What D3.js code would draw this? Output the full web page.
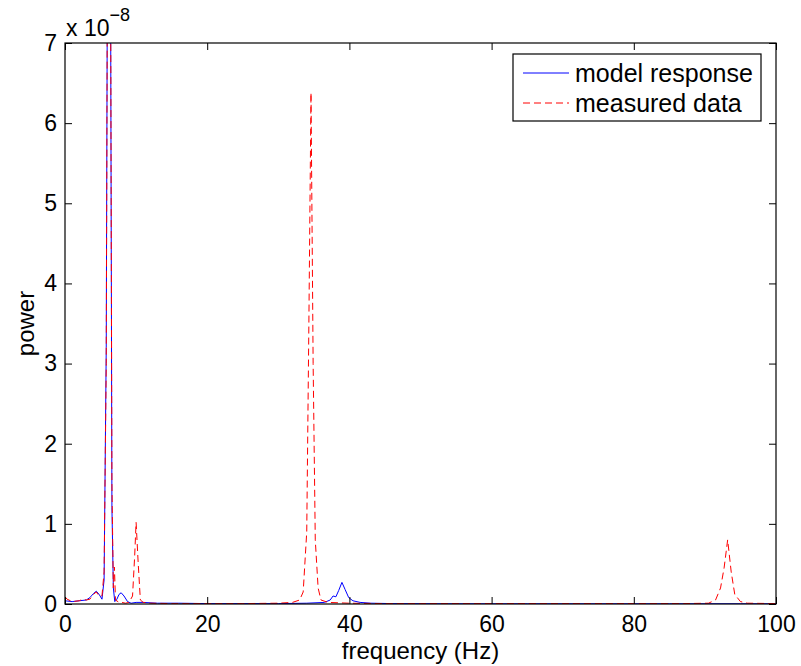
<!DOCTYPE html>
<html>
<head>
<meta charset="utf-8">
<script src="https://cdn.jsdelivr.net/npm/d3@7"></script>
<style>
  body { margin: 0; background: #fff; }
  svg text { font-family: "Liberation Sans", Arial, Helvetica, sans-serif; }
</style>
</head>
<body>
<div id="chart"></div>
<script>
// model response (blue, solid) - power in units of 1e-8
const modelFreq = [0, 1, 2, 3, 3.5, 4, 4.4, 4.8, 5.2, 5.5, 5.8, 6.2, 6.6, 6.8, 7.0, 7.3, 7.6, 7.9, 8.3, 8.8, 9.3, 10, 11, 13, 16, 20, 25, 30, 34, 36.5, 37.3, 37.7, 38.1, 38.5, 38.95, 39.4, 39.9, 40.5, 41.5, 43, 46, 55, 65, 75, 85, 95, 100];
const modelPower = [0.04, 0.03, 0.04, 0.05, 0.08, 0.13, 0.16, 0.12, 0.06, 0.3, 3.2, 15, 1.2, 0.2, 0.03, 0.06, 0.12, 0.14, 0.1, 0.03, 0.01, 0.02, 0.02, 0.01, 0.01, 0.005, 0.005, 0.005, 0.01, 0.02, 0.05, 0.1, 0.09, 0.17, 0.27, 0.18, 0.08, 0.04, 0.02, 0.01, 0.005, 0.003, 0.003, 0.003, 0.003, 0.003, 0.003];

// measured data (red, dashed)
const measFreq = [0, 0.3, 1, 2, 2.5, 3, 3.5, 4, 4.4, 4.8, 5.2, 5.5, 5.8, 6.2, 6.6, 6.8, 6.95, 7.1, 7.6, 8, 8.5, 9, 9.5, 9.8, 10.0, 10.3, 10.6, 11, 12, 15, 20, 25, 30, 32, 33, 33.5, 34, 34.3, 34.6, 34.9, 35.2, 35.6, 36, 37, 40, 45, 50, 60, 70, 80, 87, 90.5, 91.5, 92.2, 92.7, 93.2, 93.7, 94.2, 95, 96, 100];
const measPower = [0.09, 0.06, 0.03, 0.04, 0.06, 0.05, 0.06, 0.12, 0.15, 0.1, 0.1, 0.4, 3, 15, 1.5, 0.2, 0.46, 0.05, 0.02, 0.02, 0.01, 0.02, 0.1, 0.6, 1.02, 0.5, 0.05, 0.02, 0.01, 0.005, 0.005, 0.005, 0.01, 0.02, 0.05, 0.15, 0.9, 3.5, 6.38, 3, 0.8, 0.2, 0.05, 0.02, 0.01, 0.005, 0.005, 0.005, 0.005, 0.005, 0.005, 0.01, 0.05, 0.2, 0.45, 0.8, 0.4, 0.12, 0.03, 0.01, 0.005];

const xTicks = [0, 20, 40, 60, 80, 100];
const yTicks = [0, 1, 2, 3, 4, 5, 6, 7];
const seriesNames = ["model response", "measured data"];

const W = 801, H = 666;
const margin = {top: 43, right: 25, bottom: 62, left: 65};
const width = W - margin.left - margin.right;
const height = H - margin.top - margin.bottom;

const svg = d3.select("#chart").append("svg")
    .attr("width", W).attr("height", H);
const g = svg.append("g").attr("transform", `translate(${margin.left},${margin.top})`);

const x = d3.scaleLinear().domain([0, 100]).range([0, width]);
const y = d3.scaleLinear().domain([0, 7]).range([height, 0]);

g.append("clipPath").attr("id", "clip")
  .append("rect").attr("width", width).attr("height", height);

const line = d3.line().x(d => x(d[0])).y(d => y(d[1]));
const modelData = modelFreq.map((f, i) => [f, modelPower[i]]);
const measData = measFreq.map((f, i) => [f, measPower[i]]);

const plot = g.append("g").attr("clip-path", "url(#clip)");
plot.append("path").datum(modelData).attr("d", line)
    .attr("fill", "none").attr("stroke", "#0000ff").attr("stroke-width", 1);
plot.append("path").datum(measData).attr("d", line)
    .attr("fill", "none").attr("stroke", "#ff0000").attr("stroke-width", 1)
    .attr("stroke-dasharray", "7,4");

// axes (MATLAB style: inward ticks on all four sides)
const tickFont = "23px";
const labelFont = "24px";
g.append("g").attr("transform", `translate(0,${height})`)
    .call(d3.axisBottom(x).tickValues(xTicks).tickFormat(d3.format("d"))
      .tickSizeInner(-7).tickSizeOuter(0).tickPadding(12));
g.append("g")
    .call(d3.axisLeft(y).tickValues(yTicks).tickFormat(d3.format("d"))
      .tickSizeInner(-7).tickSizeOuter(0).tickPadding(8));
g.append("g").call(d3.axisTop(x).tickValues(xTicks).tickSizeInner(-7).tickSizeOuter(0).tickFormat(""));
g.append("g").attr("transform", `translate(${width},0)`)
    .call(d3.axisRight(y).tickValues(yTicks).tickSizeInner(-7).tickSizeOuter(0).tickFormat(""));
g.selectAll(".domain").remove();
g.selectAll(".tick line").attr("stroke", "#000");
g.selectAll(".tick text").attr("fill", "#000").style("font-size", tickFont);

g.append("rect").attr("width", width).attr("height", height)
    .attr("fill", "none").attr("stroke", "#000").attr("stroke-width", 1.2);

// exponent label
const expo = svg.append("text").attr("x", 66).attr("y", 36).style("font-size", tickFont);
expo.append("tspan").text("x 10");
expo.append("tspan").attr("dy", -15).style("font-size", "18px").text("\u22128");

// axis titles
svg.append("text")
    .attr("x", margin.left + width / 2).attr("y", 659)
    .attr("text-anchor", "middle").style("font-size", labelFont)
    .text("frequency (Hz)");
svg.append("text")
    .attr("transform", `translate(34,${margin.top + height / 2}) rotate(-90)`)
    .attr("text-anchor", "middle").style("font-size", labelFont)
    .text("power");

// legend
const lg = svg.append("g");
lg.append("rect").attr("x", 513).attr("y", 54).attr("width", 248).attr("height", 67)
    .attr("fill", "#fff").attr("stroke", "#000").attr("stroke-width", 1.2);
const rows = [{c: "#0000ff", dash: null, y: 73}, {c: "#ff0000", dash: "7,4", y: 103}];
rows.forEach((r, i) => {
  lg.append("line").attr("x1", 523).attr("x2", 569).attr("y1", r.y).attr("y2", r.y)
    .attr("stroke", r.c).attr("stroke-width", 1).attr("stroke-dasharray", r.dash);
  lg.append("text").attr("x", 575).attr("y", r.y).attr("dy", "0.35em")
    .style("font-size", "25px").text(seriesNames[i]);
});
</script>
</body>
</html>
